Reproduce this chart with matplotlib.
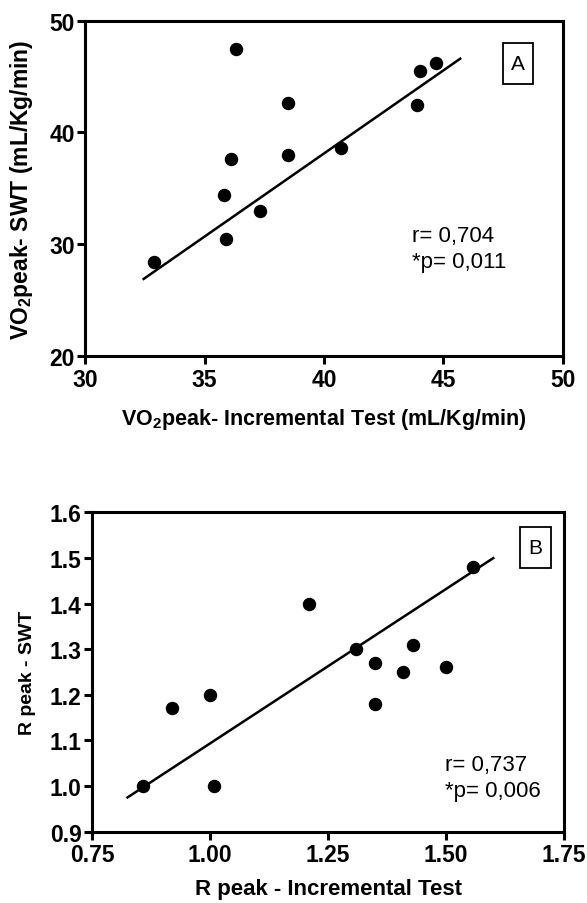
import numpy as np
import matplotlib.pyplot as plt
from matplotlib.patches import Rectangle

plt.rcParams['font.family'] = ['Liberation Sans', 'DejaVu Sans']

# Panel A: VO2peak
vo2_inc = [32.9, 35.8, 35.9, 36.1, 36.3, 37.3, 38.5, 38.5, 40.7, 43.9, 44.0, 44.7]
vo2_swt = [28.4, 34.4, 30.5, 37.6, 47.5, 33.0, 38.0, 42.6, 38.6, 42.5, 45.5, 46.2]
fit_a_x = [32.45, 45.7]
fit_a_y = [26.9, 46.6]

# Panel B: R peak
r_inc = [0.857, 0.919, 0.999, 1.008, 1.209, 1.308, 1.349, 1.349, 1.408, 1.430, 1.499, 1.558]
r_swt = [1.00, 1.17, 1.20, 1.00, 1.40, 1.30, 1.27, 1.18, 1.25, 1.31, 1.26, 1.48]
fit_b_x = [0.825, 1.60]
fit_b_y = [0.975, 1.50]

fig = plt.figure(figsize=(5.87, 9.04), dpi=100)
ax1 = fig.add_axes([0.145, 0.605, 0.814, 0.371])
ax2 = fig.add_axes([0.157, 0.079, 0.804, 0.353])


def style(ax):
    for s in ax.spines.values():
        s.set_linewidth(2.2)
    ax.tick_params(direction='out', length=5.5, width=2.2, labelsize=16.5, pad=2)
    ax.tick_params(axis='x', pad=3)
    for lab in ax.get_xticklabels() + ax.get_yticklabels():
        lab.set_fontweight('bold')


def panel_tag(ax, letter, x0, y0, x1, y1):
    ax.add_patch(Rectangle((x0, y0), x1 - x0, y1 - y0, transform=ax.transAxes,
                           fill=False, ec='black', lw=1.3, zorder=4))
    ax.text((x0 + x1) / 2, (y0 + y1) / 2, letter, transform=ax.transAxes,
            fontsize=15, ha='center', va='center')


ax1.scatter(vo2_inc, vo2_swt, s=75, color='black', zorder=3)
ax1.plot(fit_a_x, fit_a_y, color='black', lw=1.8)
ax1.set_xlim(30, 50)
ax1.set_ylim(20, 50)
ax1.set_xticks([30, 35, 40, 45, 50])
ax1.set_yticks([20, 30, 40, 50])
style(ax1)
ax1.set_xlabel(r'VO$_\mathregular{2}$peak- Incremental Test (mL/Kg/min)',
               fontsize=15.5, fontweight='bold')
ax1.set_ylabel(r'VO$_\mathregular{2}$peak- SWT (mL/Kg/min)',
               fontsize=16.5, fontweight='bold')
ax1.xaxis.set_label_coords(0.5, -0.15)
ax1.yaxis.set_label_coords(-0.105, 0.5)
panel_tag(ax1, 'A', 0.874, 0.812, 0.937, 0.934)
ax1.text(43.7, 29.6, 'r= 0,704\n*p= 0,011', fontsize=16, ha='left', va='center',
         linespacing=1.3)

ax2.scatter(r_inc, r_swt, s=75, color='black', zorder=3)
ax2.plot(fit_b_x, fit_b_y, color='black', lw=1.8)
ax2.set_xlim(0.75, 1.75)
ax2.set_ylim(0.9, 1.6)
ax2.set_xticks([0.75, 1.00, 1.25, 1.50, 1.75])
ax2.set_xticklabels(['0.75', '1.00', '1.25', '1.50', '1.75'])
ax2.set_yticks(np.arange(0.9, 1.61, 0.1))
ax2.set_yticklabels(['0.9', '1.0', '1.1', '1.2', '1.3', '1.4', '1.5', '1.6'])
style(ax2)
ax2.set_xlabel('R peak - Incremental Test', fontsize=16, fontweight='bold')
ax2.set_ylabel('R peak - SWT', fontsize=14, fontweight='bold')
ax2.xaxis.set_label_coords(0.5, -0.145)
ax2.yaxis.set_label_coords(-0.118, 0.5)
panel_tag(ax2, 'B', 0.907, 0.826, 0.972, 0.953)
ax2.text(1.497, 1.018, 'r= 0,737\n*p= 0,006', fontsize=16, ha='left', va='center',
         linespacing=1.3)

fig.savefig('out.png', dpi=100)
